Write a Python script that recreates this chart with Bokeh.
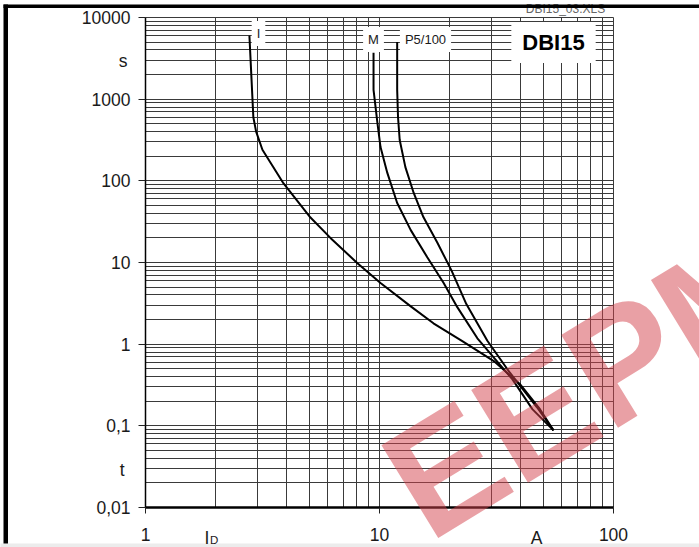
from bokeh.plotting import figure
from bokeh.models import FixedTicker, Label, BoxAnnotation, Range1d
from bokeh.embed import file_html
from bokeh.resources import INLINE

# ---------------- data ----------------
i_current = [2.78, 2.84, 2.89, 2.97, 3.16, 3.89, 5.07, 6.17, 8.05, 10.1, 13.6, 17.0, 22.5, 30.8, 40.0, 48.5, 55.4]
i_time = [6000, 1700, 600, 400, 240, 93, 35.5, 20, 9.8, 5.6, 2.9, 1.8, 1.1, 0.62, 0.32, 0.16, 0.088]

m_current = [9.43, 9.43, 9.8, 10.1, 10.8, 11.9, 13.6, 16.0, 18.8, 21.5, 26.2, 37.0, 45.0, 55.4]
m_time = [3700, 1300, 510, 259, 125, 53.5, 24.9, 11.6, 5.6, 2.84, 1.18, 0.37, 0.16, 0.088]

p_current = [11.9, 11.9, 12.0, 12.2, 12.9, 14.0, 15.4, 17.7, 20.3, 23.5, 28.9, 36.0, 47.0, 55.4]
p_time = [5000, 1300, 600, 316, 147, 71, 36, 17.3, 8.0, 3.1, 1.1, 0.45, 0.17, 0.088]

curve_names = ["I", "M", "P5/100"]
chart_title = "DBI15"
file_name = "DBI15_03.XLS"
watermark = "EEPM"

y_ticks = [0.01, 0.1, 1, 10, 100, 1000, 10000]
y_tick_labels = ["0,01", "0,1", "1", "10", "100", "1000", "10000"]
x_ticks = [1, 10, 100]
x_tick_labels = ["1", "10", "100"]
y_unit, y_symbol = "s", "t"
x_symbol, x_sub, x_unit = "I", "D", "A"

# ---------------- layout ----------------
W, H = 699, 547
X1_PX, X100_PX = 145, 613        # pixel of current 1 A and 100 A
Y10K_PX, Y001_PX = 17, 507       # pixel of 10000 s and 0.01 s
FONT = "Liberation Sans"


def px2x(px):
    return 10 ** ((px - X1_PX) / ((X100_PX - X1_PX) / 2.0))


def py2y(py):
    return 10 ** (-2 + (Y001_PX - py) / ((Y001_PX - Y10K_PX) / 6.0))


p = figure(width=W, height=H, x_axis_type="log", y_axis_type="log",
           x_range=Range1d(px2x(0), px2x(W)), y_range=Range1d(py2y(H), py2y(0)),
           output_backend="svg", toolbar_location=None, min_border=0)
p.background_fill_color = "white"
p.border_fill_color = "white"
p.outline_line_color = None

# axes drawn at fixed places inside the canvas
p.xaxis.fixed_location = y_ticks[0]
p.yaxis.fixed_location = x_ticks[0]
p.xaxis.bounds = (x_ticks[0], x_ticks[-1])
p.yaxis.bounds = (y_ticks[0], y_ticks[-1])
p.xaxis.ticker = FixedTicker(ticks=x_ticks)
p.yaxis.ticker = FixedTicker(ticks=y_ticks)

x_minor = [d * k for d in x_ticks[:-1] for k in range(2, 10)]
y_minor = [d * k for d in y_ticks[:-1] for k in range(2, 10)]

GRID_C = "#3a3a3a"
try:
    p.xgrid.ticker = FixedTicker(ticks=x_ticks, minor_ticks=x_minor)
    p.ygrid.ticker = FixedTicker(ticks=y_ticks, minor_ticks=y_minor)
    p.xgrid.bounds = (x_ticks[0], x_ticks[-1])
    p.ygrid.bounds = (y_ticks[0], y_ticks[-1])
    p.xgrid.cross_bounds = (y_ticks[0], y_ticks[-1])
    p.ygrid.cross_bounds = (x_ticks[0], x_ticks[-1])
    for g in (p.xgrid, p.ygrid):
        g.grid_line_color = GRID_C
        g.grid_line_width = 1
        g.minor_grid_line_color = GRID_C
        g.minor_grid_line_width = 1
except AttributeError:
    for g in (p.xgrid, p.ygrid):
        g.visible = False
    xs_all = x_ticks + x_minor
    ys_all = y_ticks + y_minor
    p.multi_line([[v, v] for v in xs_all], [[y_ticks[0], y_ticks[-1]]] * len(xs_all),
                 line_color=GRID_C, line_width=1)
    p.multi_line([[x_ticks[0], x_ticks[-1]]] * len(ys_all), [[v, v] for v in ys_all],
                 line_color=GRID_C, line_width=1)

for ax in (p.xaxis, p.yaxis):
    ax.minor_tick_line_color = None
    ax.major_tick_in = 0
    ax.major_tick_line_color = "#222222"
    ax.axis_line_color = "black"
    ax.major_label_text_font = FONT
    ax.major_label_text_font_size = "17.5px"
    ax.major_label_text_color = "#1a1a1a"

p.xaxis.major_label_overrides = dict(zip(x_ticks, x_tick_labels))
p.yaxis.major_label_overrides = dict(zip(y_ticks, y_tick_labels))
p.xaxis.axis_line_width = 2.5
p.xaxis.major_tick_out = 6
p.xaxis.major_label_standoff = 14
p.yaxis.axis_line_width = 1.5
p.yaxis.major_tick_out = 7
p.yaxis.major_label_standoff = 8

# ---------------- curves ----------------
for xs, ys in ((i_current, i_time), (m_current, m_time), (p_current, p_time)):
    p.line(xs, ys, line_color="black", line_width=2)

# grey strip at the foot of the scanned page
p.add_layout(BoxAnnotation(left=px2x(-2), right=px2x(W + 2), top=py2y(543), bottom=py2y(H + 2),
                           fill_color="#ececec", fill_alpha=1, line_color=None))


# ---------------- texts ----------------
def lab(x, y, text, **kw):
    opts = dict(text_font=FONT, text_color="#1a1a1a")
    opts.update(kw)
    p.add_layout(Label(x=x, y=y, text=text, **opts))


box = dict(background_fill_color="white", border_line_color=None)
lab(px2x(258), py2y(33), curve_names[0], text_font_size="13px", text_align="center",
    text_baseline="middle", padding=(5, 5), **box)
lab(px2x(373), py2y(39), curve_names[1], text_font_size="13px", text_align="center",
    text_baseline="middle", padding=(5, 5), **box)
lab(px2x(425), py2y(39), curve_names[2], text_font_size="13px", text_align="center",
    text_baseline="middle", padding=(5, 5), **box)
lab(px2x(553), py2y(42), chart_title, text_font_size="22px", text_font_style="bold",
    text_align="center", text_baseline="middle", padding=(11, 8), text_color="black", **box)

lab(px2x(127), py2y(60), y_unit, text_font_size="17.5px", text_align="right",
    text_baseline="alphabetic")
lab(px2x(124), py2y(469), y_symbol, text_font_size="17.5px", text_align="right",
    text_baseline="alphabetic")
lab(px2x(204), py2y(537), x_symbol, text_font_size="17.5px", text_align="left",
    text_baseline="alphabetic")
lab(px2x(209.5), py2y(539), x_sub, text_font_size="11.5px", text_align="left",
    text_baseline="alphabetic")
lab(px2x(536), py2y(537), x_unit, text_font_size="17.5px", text_align="center",
    text_baseline="alphabetic")
lab(px2x(565), py2y(8.5), file_name, text_font_size="12px", text_align="center",
    text_baseline="alphabetic", text_color="#666666")

# watermark
p.add_layout(Label(x=px2x(400), y=py2y(496), text=watermark, angle=0.55,
                   text_font=FONT, text_font_style="bold", text_font_size="158px",
                   text_color="#D3414B", text_alpha=0.5,
                   text_align="left", text_baseline="alphabetic"))

# frame bars of the scanned page
p.add_layout(BoxAnnotation(left=px2x(3), right=px2x(W + 2), top=py2y(4), bottom=py2y(7.5),
                           fill_color="black", fill_alpha=1, line_color=None))
p.add_layout(BoxAnnotation(left=px2x(3), right=px2x(7.5), top=py2y(4), bottom=py2y(543),
                           fill_color="black", fill_alpha=1, line_color=None))

open("out.html", "w").write(file_html(p, INLINE))
